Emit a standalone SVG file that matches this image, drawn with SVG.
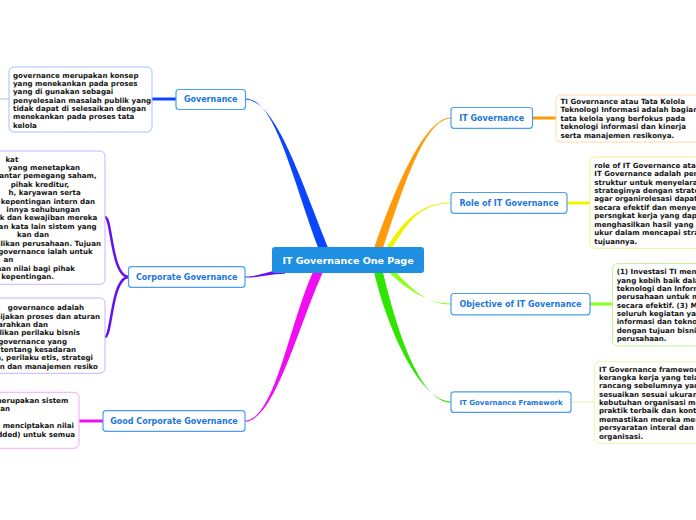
<svg xmlns="http://www.w3.org/2000/svg" width="696" height="520" viewBox="0 0 696 520">
<style>
.bg{fill:#ffffff}
.box{fill:#ffffff;stroke-width:1}
.t{font-family:"DejaVu Sans","Verdana",sans-serif;font-weight:bold;font-size:7.1px;fill:#141414}
.te{font-family:"DejaVu Sans","Verdana",sans-serif;font-weight:bold;font-size:7.1px;fill:#141414;text-anchor:end}
.node rect{fill:#ffffff;stroke:#4a9ff0;stroke-width:1.2}
.lbl{font-family:"DejaVu Sans","Verdana",sans-serif;font-weight:bold;font-size:8px;fill:#1c76dc;text-anchor:middle}
.cl{font-family:"DejaVu Sans","Verdana",sans-serif;font-weight:bold;font-size:9.5px;fill:#ffffff;text-anchor:middle}
</style>
<rect class="bg" x="0" y="0" width="696" height="520"/>
<g id="connectors">
  <path d="M245,98.4 C275,98.4 291,175 319,250 L329,250 C299,175 275,99.6 245,99.6 Z" fill="#0a46ff"/>
  <path d="M451,117.4 C425,117.4 396,185 373.5,250 L382.5,250 C404,185 425,118.6 451,118.6 Z" fill="#ff9a0a"/>
  <path d="M451,202.5 C420,202.5 402,222 385,250 L391,250 C408,222 420,203.5 451,203.5 Z" fill="#f2f200"/>
  <path d="M451,303.5 C425,303.5 401.5,285 386.5,270 L393.5,270 C408.5,285 425,304.5 451,304.5 Z" fill="#8cff1a"/>
  <path d="M451,401.4 C420,401.4 387.5,330 373.5,270 L382.5,270 C396.5,330 420,402.6 451,402.6 Z" fill="#2ee600"/>
  <path d="M245,420.4 C275,420.4 290,320 314,270 L324,270 C300,320 275,421.6 245,421.6 Z" fill="#f20cf2"/>
  <path d="M245,276.4 C262,276.4 268,270 285,269.5 L285,273.8 C268,274.2 262,277.6 245,277.6 Z" fill="#6a0cf5"/>
  <path d="M129,277 C111,277 112,217 105,217 M129,277 C111,277 112,337 105,337" fill="none" stroke="#6410f0" stroke-width="2.5"/>
  <line x1="152" y1="99" x2="176" y2="99" stroke="#0a46ff" stroke-width="3"/>
  <line x1="0" y1="99" x2="9" y2="99" stroke="#a8bcff" stroke-width="1"/>
  <line x1="532" y1="118" x2="556" y2="118" stroke="#ff9a0a" stroke-width="3"/>
  <line x1="567" y1="203" x2="590" y2="203" stroke="#f2f200" stroke-width="3"/>
  <line x1="590" y1="304" x2="613" y2="304" stroke="#8cff1a" stroke-width="3"/>
  <line x1="571" y1="402" x2="594" y2="402" stroke="#e2f2a0" stroke-width="1"/>
  <line x1="79" y1="421" x2="103" y2="421" stroke="#f20cf2" stroke-width="3"/>
</g>
<g id="center">
  <rect x="272" y="247" width="152" height="26" rx="3" fill="#1f8fe2"/>
  <text class="cl" x="348" y="263.5">IT Governance One Page</text>
</g>
<g id="n-governance" class="node">
  <rect x="176" y="89.5" width="69.5" height="20" rx="3"/>
  <text class="lbl" x="210.7" y="102.3">Governance</text>
</g>
<g id="n-corporate" class="node">
  <rect x="128.5" y="266.7" width="116.5" height="20.6" rx="3"/>
  <text class="lbl" x="186.7" y="279.8">Corporate Governance</text>
</g>
<g id="n-good" class="node">
  <rect x="103" y="410.7" width="142" height="20.6" rx="3"/>
  <text class="lbl" x="174" y="423.8">Good Corporate Governance</text>
</g>
<g id="n-itgov" class="node">
  <rect x="451" y="107.5" width="81.5" height="20.8" rx="3"/>
  <text class="lbl" x="491.7" y="120.7">IT Governance</text>
</g>
<g id="n-role" class="node">
  <rect x="451" y="192.5" width="116" height="20.8" rx="3"/>
  <text class="lbl" x="509" y="205.7">Role of IT Governance</text>
</g>
<g id="n-objective" class="node">
  <rect x="451" y="293.5" width="139" height="21.3" rx="3"/>
  <text class="lbl" x="520.5" y="306.9">Objective of IT Governance</text>
</g>
<g id="n-framework" class="node">
  <rect x="451" y="391.8" width="120" height="20.6" rx="3"/>
  <text class="lbl" x="511" y="404.6" style="font-size:7px">IT Governance Framework</text>
</g>
<g id="d-governance">
  <rect class="box" x="9" y="67" width="143" height="65" rx="5" stroke="#a8bcff"/>
  <text class="t" x="13"><tspan x="13" y="77.6">governance merupakan konsep</tspan><tspan x="13" y="86">yang menekankan pada proses</tspan><tspan x="13" y="94.3">yang di gunakan sebagai</tspan><tspan x="13" y="102.7">penyelesaian masalah publik yang</tspan><tspan x="13" y="111">tidak dapat di selesaikan dengan</tspan><tspan x="13" y="119.4">menekankan pada proses tata</tspan><tspan x="13" y="127.8">kelola</tspan></text>
</g>
<g id="d-corporate-1">
  <rect class="box" x="-100" y="151" width="205" height="133.3" rx="5" stroke="#c7b2ff"/>
  <text class="te"><tspan x="18.3" y="161.6">kat</tspan><tspan x="80" y="170">yang menetapkan</tspan><tspan x="96.7" y="178.4">antar pemegang saham,</tspan><tspan x="69.3" y="186.8">pihak kreditur,</tspan><tspan x="80.7" y="195.2">h, karyawan serta</tspan><tspan x="95" y="203.6">kepentingan intern dan</tspan><tspan x="80" y="212">innya sehubungan</tspan><tspan x="97.3" y="220.4">k dan kewajiban mereka</tspan><tspan x="96.7" y="228.8">an kata lain sistem yang</tspan><tspan x="49" y="237.2">kan dan</tspan><tspan x="101" y="245.6">ilikan perusahaan. Tujuan</tspan><tspan x="92.7" y="254">governance ialah untuk</tspan><tspan x="13.3" y="262.4">an</tspan><tspan x="75" y="270.8">han nilai bagi pihak</tspan><tspan x="54" y="279.4">kepentingan.</tspan></text>
</g>
<g id="d-corporate-2">
  <rect class="box" x="-100" y="298" width="205" height="75.3" rx="5" stroke="#c7b2ff"/>
  <text class="te"><tspan x="84" y="310.3">governance adalah</tspan><tspan x="100" y="318.6">bijakan proses dan aturan</tspan><tspan x="48" y="327">garahkan dan</tspan><tspan x="80" y="335.3">likan perilaku bisnis</tspan><tspan x="67" y="343.7">governance yang</tspan><tspan x="76" y="352">tentang kesadaran</tspan><tspan x="93" y="360.4">n, perilaku etis, strategi</tspan><tspan x="98" y="368.7">an dan manajemen resiko</tspan></text>
</g>
<g id="d-good">
  <rect class="box" x="-100" y="392.3" width="179" height="56" rx="5" stroke="#f5a8f5"/>
  <text class="te"><tspan x="68.3" y="402.6">merupakan sistem</tspan><tspan x="10" y="411">ian</tspan><tspan x="74" y="428.3">g menciptakan nilai</tspan><tspan x="75" y="436.6">dded) untuk semua</tspan></text>
</g>
<g id="d-itgov">
  <rect class="box" x="556" y="95" width="200" height="47" rx="5" stroke="#ffd9a3"/>
  <text class="t"><tspan x="560.5" y="103.6">TI Governance atau Tata Kelola</tspan><tspan x="560.5" y="111.8">Teknologi Informasi adalah bagian</tspan><tspan x="560.5" y="120.6">tata kelola yang berfokus pada</tspan><tspan x="560.5" y="129.2">teknologi informasi dan kinerja</tspan><tspan x="560.5" y="138">serta manajemen resikonya.</tspan></text>
</g>
<g id="d-role">
  <rect class="box" x="590" y="157" width="200" height="91.3" rx="5" stroke="#f2f28a"/>
  <text class="t"><tspan x="594.3" y="167.6">role of IT Governance atau</tspan><tspan x="594.3" y="176.1">IT Governance adalah pen</tspan><tspan x="594.3" y="184.5">struktur untuk menyelara</tspan><tspan x="594.3" y="192.9">strateginya dengan strate</tspan><tspan x="594.3" y="201.3">agar organirolesasi dapat</tspan><tspan x="594.3" y="209.8">secara efektif dan menyed</tspan><tspan x="594.3" y="218.2">persngkat kerja yang dapa</tspan><tspan x="594.3" y="226.6">menghasilkan hasil yang d</tspan><tspan x="594.3" y="235">ukur dalam mencapai stra</tspan><tspan x="594.3" y="243.5">tujuannya.</tspan></text>
</g>
<g id="d-objective">
  <rect class="box" x="612.5" y="263.5" width="200" height="82.5" rx="5" stroke="#c2f595"/>
  <text class="t"><tspan x="616.7" y="274.3">(1) Investasi TI men</tspan><tspan x="616.7" y="282.6">yang kebih baik dala</tspan><tspan x="616.7" y="291">teknologi dan Inform</tspan><tspan x="616.7" y="299.3">perusahaan untuk m</tspan><tspan x="616.7" y="307.7">secara efektif. (3) M</tspan><tspan x="616.7" y="316">seluruh kegiatan yan</tspan><tspan x="616.7" y="324.4">informasi dan tekno</tspan><tspan x="616.7" y="332.7">dengan tujuan bisnis</tspan><tspan x="616.7" y="341">perusahaan.</tspan></text>
</g>
<g id="d-framework">
  <rect class="box" x="594.3" y="361.7" width="200" height="81.6" rx="5" stroke="#eef5a5"/>
  <text class="t"><tspan x="599" y="371.6">IT Governance framewor</tspan><tspan x="599" y="380">kerangka kerja yang tela</tspan><tspan x="599" y="388.3">rancang sebelumnya yan</tspan><tspan x="599" y="396.7">sesuaikan sesuai ukuran</tspan><tspan x="599" y="405">kebutuhan organisasi me</tspan><tspan x="599" y="413.4">praktik terbaik dan kontr</tspan><tspan x="599" y="421.7">memastikan mereka mer</tspan><tspan x="599" y="430.1">persyaratan interal dan e</tspan><tspan x="599" y="438.5">organisasi.</tspan></text>
</g>
</svg>
